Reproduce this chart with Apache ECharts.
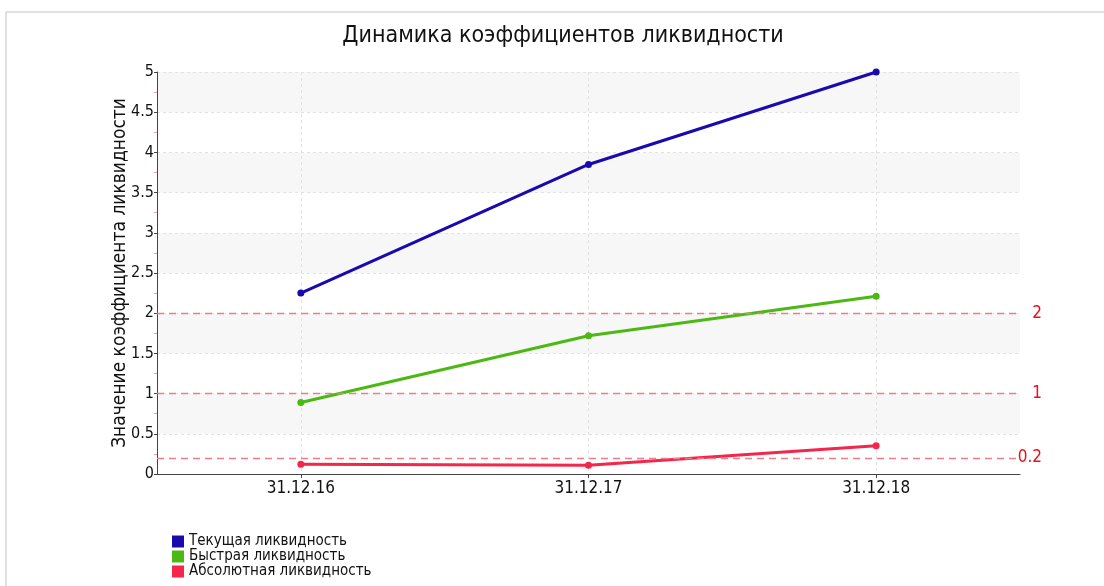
<!DOCTYPE html>
<html>
<head>
<meta charset="utf-8">
<script src="https://cdn.jsdelivr.net/npm/echarts@6/dist/echarts.min.js"></script>
<style>
html,body{margin:0;padding:0;background:#fff;}
#chart{width:1104px;height:586px;}
</style>
</head>
<body>
<div id="chart"></div>
<script>
const categories = ['31.12.16', '31.12.17', '31.12.18'];
const currentRatio = [2.25, 3.85, 5.0];
const quickRatio = [0.89, 1.72, 2.21];
const absoluteRatio = [0.12, 0.11, 0.35];
const normLevels = [2, 1, 0.2];
const seriesNames = ['Текущая ликвидность', 'Быстрая ликвидность', 'Абсолютная ликвидность'];
const colors = ['#1a0aad', '#4cb814', '#f5264b'];

const FONT = '"DejaVu Sans Condensed", "DejaVu Sans", sans-serif';
const chart = echarts.init(document.getElementById('chart'));

function lineSeries(name, data, color, withMarks) {
  const s = {
    name: name,
    type: 'line',
    data: data,
    symbol: 'circle',
    symbolSize: 7,
    itemStyle: { color: color },
    lineStyle: { color: color, width: 3 },
    z: 3
  };
  if (withMarks) {
    s.markLine = {
      silent: true,
      symbol: ['none', 'none'],
      lineStyle: { color: '#f07c8a', type: [7, 5], width: 1.4 },
      label: {
        position: 'end',
        color: '#e8101e',
        fontSize: 17,
        fontFamily: FONT,
        align: 'right',
        distance: 22,
        formatter: p => String(p.value)
      },
      data: normLevels.map(v => ({ yAxis: v }))
    };
  }
  return s;
}

chart.setOption({
  animation: false,
  title: {
    text: 'Динамика коэффициентов ликвидности',
    left: 558,
    textAlign: 'center',
    top: 20,
    textStyle: { fontFamily: FONT, fontSize: 23, fontWeight: 'normal', color: '#111' }
  },
  legend: {
    orient: 'vertical',
    left: 172,
    top: 534,
    padding: 0,
    itemWidth: 12,
    itemHeight: 12,
    itemGap: 0,
    icon: 'rect',
    textStyle: { fontFamily: FONT, fontSize: 15, lineHeight: 15, color: '#111' },
    data: seriesNames
  },
  graphic: [
    { type: 'line', shape: { x1: 6, y1: 12, x2: 1104, y2: 12 }, style: { stroke: '#d6d6d6', lineWidth: 1.5 } },
    { type: 'line', shape: { x1: 6, y1: 12, x2: 6, y2: 586 }, style: { stroke: '#d6d6d6', lineWidth: 1.5 } }
  ],
  grid: { left: 157, right: 84, top: 72, bottom: 112 },
  xAxis: {
    type: 'category',
    data: categories,
    boundaryGap: true,
    axisLine: { lineStyle: { color: '#444', width: 1 } },
    axisTick: { show: true, alignWithLabel: true, length: 4, lineStyle: { color: '#444' } },
    axisLabel: { fontFamily: FONT, fontSize: 17, color: '#111', margin: 6 },
    splitLine: { show: true, alignWithLabel: true, lineStyle: { color: '#e2e2e2', type: [3, 3] } }
  },
  yAxis: {
    type: 'value',
    min: 0,
    max: 5,
    interval: 0.5,
    name: 'Значение коэффициента ликвидности',
    nameLocation: 'middle',
    nameGap: 27,
    nameMoveOverlap: false,
    nameTextStyle: { fontFamily: FONT, fontSize: 19, color: '#111' },
    axisLine: { show: true, lineStyle: { color: '#444', width: 1 } },
    axisTick: { show: true, length: 3, lineStyle: { color: '#444' } },
    minorTick: { show: true, splitNumber: 2, length: 3, lineStyle: { color: '#e7a0b0' } },
    axisLabel: { fontFamily: FONT, fontSize: 16, color: '#111', margin: 3 },
    splitLine: { show: true, lineStyle: { color: '#e2e2e2', type: [3, 3] } },
    splitArea: { show: true, areaStyle: { color: ['#ffffff', '#f7f7f7'] } }
  },
  series: [
    lineSeries(seriesNames[0], currentRatio, colors[0], true),
    lineSeries(seriesNames[1], quickRatio, colors[1], false),
    lineSeries(seriesNames[2], absoluteRatio, colors[2], false)
  ]
});
</script>
</body>
</html>
